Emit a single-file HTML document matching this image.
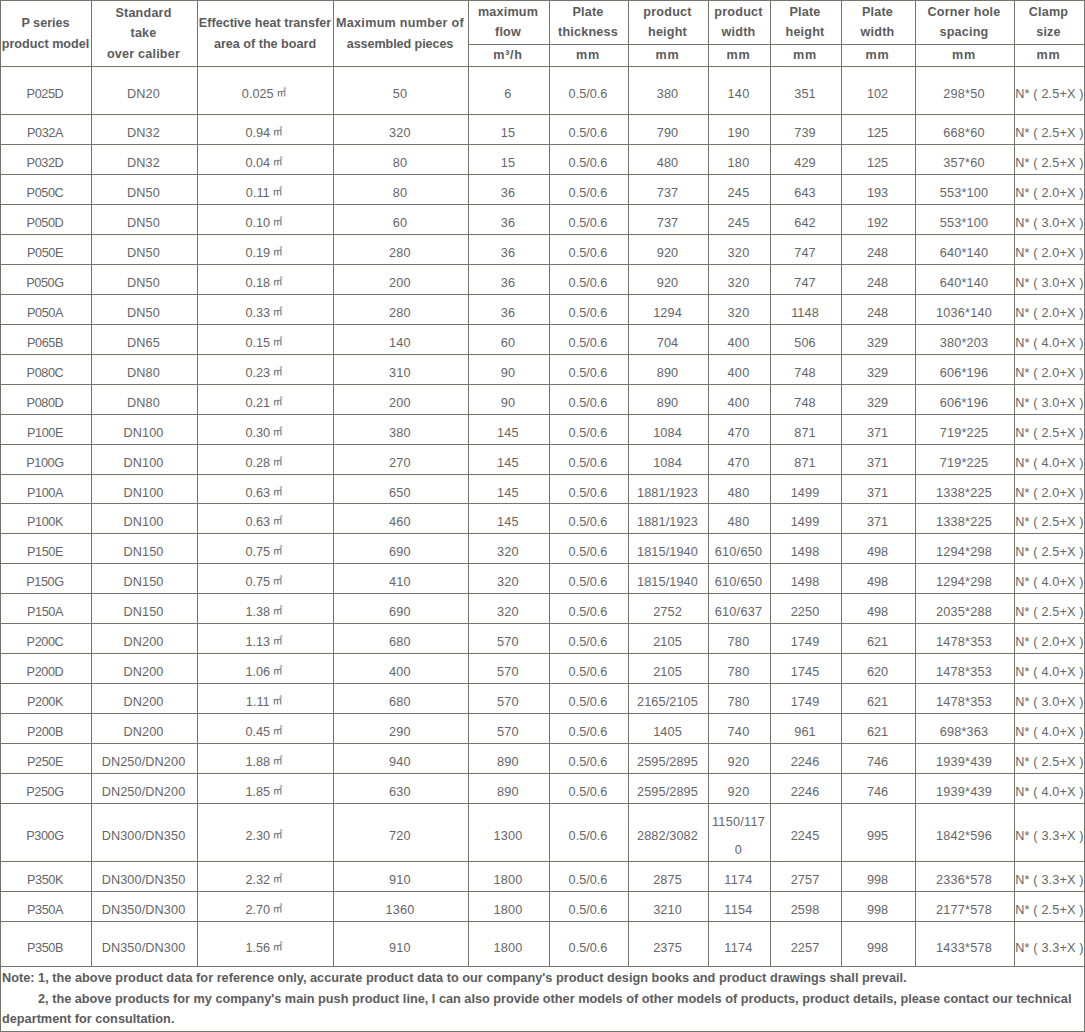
<!DOCTYPE html>
<html lang="en"><head><meta charset="utf-8"><title>P series plate heat exchanger parameters</title>
<style>
*{box-sizing:border-box;margin:0;padding:0}
html,body{width:1085px;height:1032px;background:#fff;overflow:hidden}
body{font-family:"Liberation Sans","Noto Sans CJK SC",sans-serif;color:#666;font-size:12.7px}
table{border-collapse:separate;border-spacing:0;table-layout:fixed;width:1085px;
 border-left:1px solid #74746b;border-top:1px solid #74746b}
td,th{border-right:1px solid #74746b;border-bottom:1px solid #74746b;text-align:center;
 vertical-align:middle;white-space:nowrap;overflow:visible;padding:0;font-weight:normal}
td div{position:relative;top:3px;line-height:20px}
td div.two{line-height:28px}
td{padding-right:2px}
td.c0{letter-spacing:-0.4px}
td.c1{letter-spacing:0.1px}
td.c3,td.c4,td.c10{letter-spacing:0.2px}
td.c6,td.c8{letter-spacing:0.1px}
td.c7{letter-spacing:0.25px}
td.c11{padding-right:0;letter-spacing:0.15px}
tr.last td div{top:4px}
th{font-weight:bold;color:#5c5c5c;font-size:12.6px;line-height:20.4px}
th div{position:relative}
th{padding-right:2px;letter-spacing:0.2px}
th.h0,th.h2{letter-spacing:0;padding-right:1px}
th.h3{letter-spacing:0.28px}
.u th{letter-spacing:0.7px}
th.a1 div{line-height:20.2px;top:-0.3px}
.u th{line-height:21px}
.sq{font-family:"IPAGothic","Noto Sans CJK SC",sans-serif;font-size:11.5px;line-height:1;vertical-align:1px;margin-left:-1.5px}
td.note div{top:1px;line-height:20.7px}
.ind{display:inline-block;width:36px}
.l1{letter-spacing:0.015px}
.l2{letter-spacing:-0.08px}
td.note{text-align:left;white-space:normal;font-weight:bold;color:#5c5c5c;vertical-align:top;
 padding:0 0 0 1px;line-height:20.7px;font-size:12.72px}
</style></head>
<body>
<table>
<colgroup>
<col style="width:91px">
<col style="width:106px">
<col style="width:136px">
<col style="width:135px">
<col style="width:81px">
<col style="width:79px">
<col style="width:80px">
<col style="width:62px">
<col style="width:71px">
<col style="width:74px">
<col style="width:99px">
<col style="width:70px">
</colgroup>
<thead>
<tr style="height:44px">
<th class="a2 h0" rowspan="2"><div>P series<br>product model</div></th>
<th class="a2 h1" rowspan="2"><div>Standard<br>take<br>over caliber</div></th>
<th class="a2 h2" rowspan="2"><div>Effective heat transfer<br>area of the board</div></th>
<th class="a2 h3" rowspan="2"><div>Maximum number of<br><span class="l2">assembled pieces</span></div></th>
<th class="a1 h4"><div>maximum<br>flow</div></th>
<th class="a1 h5"><div>Plate<br>thickness</div></th>
<th class="a1 h6"><div>product<br>height</div></th>
<th class="a1 h7"><div>product<br>width</div></th>
<th class="a1 h8"><div>Plate<br>height</div></th>
<th class="a1 h9"><div>Plate<br>width</div></th>
<th class="a1 h10"><div>Corner hole<br>spacing</div></th>
<th class="a1 h11"><div>Clamp<br>size</div></th>
</tr>
<tr class="u" style="height:22px">
<th><div>m³/h</div></th>
<th><div>mm</div></th>
<th><div>mm</div></th>
<th><div>mm</div></th>
<th><div>mm</div></th>
<th><div>mm</div></th>
<th><div>mm</div></th>
<th><div>mm</div></th>
</tr>
</thead>
<tbody>
<tr style="height:48px">
<td class="c0"><div>P025D</div></td>
<td class="c1"><div>DN20</div></td>
<td class="c2"><div>0.025 <span class="sq">㎡</span></div></td>
<td class="c3"><div>50</div></td>
<td class="c4"><div>6</div></td>
<td class="c5"><div>0.5/0.6</div></td>
<td class="c6"><div>380</div></td>
<td class="c7"><div>140</div></td>
<td class="c8"><div>351</div></td>
<td class="c9"><div>102</div></td>
<td class="c10"><div>298*50</div></td>
<td class="c11"><div>N* ( 2.5+X )</div></td>
</tr>
<tr style="height:30px">
<td class="c0"><div>P032A</div></td>
<td class="c1"><div>DN32</div></td>
<td class="c2"><div>0.94 <span class="sq">㎡</span></div></td>
<td class="c3"><div>320</div></td>
<td class="c4"><div>15</div></td>
<td class="c5"><div>0.5/0.6</div></td>
<td class="c6"><div>790</div></td>
<td class="c7"><div>190</div></td>
<td class="c8"><div>739</div></td>
<td class="c9"><div>125</div></td>
<td class="c10"><div>668*60</div></td>
<td class="c11"><div>N* ( 2.5+X )</div></td>
</tr>
<tr style="height:30px">
<td class="c0"><div>P032D</div></td>
<td class="c1"><div>DN32</div></td>
<td class="c2"><div>0.04 <span class="sq">㎡</span></div></td>
<td class="c3"><div>80</div></td>
<td class="c4"><div>15</div></td>
<td class="c5"><div>0.5/0.6</div></td>
<td class="c6"><div>480</div></td>
<td class="c7"><div>180</div></td>
<td class="c8"><div>429</div></td>
<td class="c9"><div>125</div></td>
<td class="c10"><div>357*60</div></td>
<td class="c11"><div>N* ( 2.5+X )</div></td>
</tr>
<tr style="height:30px">
<td class="c0"><div>P050C</div></td>
<td class="c1"><div>DN50</div></td>
<td class="c2"><div>0.11 <span class="sq">㎡</span></div></td>
<td class="c3"><div>80</div></td>
<td class="c4"><div>36</div></td>
<td class="c5"><div>0.5/0.6</div></td>
<td class="c6"><div>737</div></td>
<td class="c7"><div>245</div></td>
<td class="c8"><div>643</div></td>
<td class="c9"><div>193</div></td>
<td class="c10"><div>553*100</div></td>
<td class="c11"><div>N* ( 2.0+X )</div></td>
</tr>
<tr style="height:30px">
<td class="c0"><div>P050D</div></td>
<td class="c1"><div>DN50</div></td>
<td class="c2"><div>0.10 <span class="sq">㎡</span></div></td>
<td class="c3"><div>60</div></td>
<td class="c4"><div>36</div></td>
<td class="c5"><div>0.5/0.6</div></td>
<td class="c6"><div>737</div></td>
<td class="c7"><div>245</div></td>
<td class="c8"><div>642</div></td>
<td class="c9"><div>192</div></td>
<td class="c10"><div>553*100</div></td>
<td class="c11"><div>N* ( 3.0+X )</div></td>
</tr>
<tr style="height:30px">
<td class="c0"><div>P050E</div></td>
<td class="c1"><div>DN50</div></td>
<td class="c2"><div>0.19 <span class="sq">㎡</span></div></td>
<td class="c3"><div>280</div></td>
<td class="c4"><div>36</div></td>
<td class="c5"><div>0.5/0.6</div></td>
<td class="c6"><div>920</div></td>
<td class="c7"><div>320</div></td>
<td class="c8"><div>747</div></td>
<td class="c9"><div>248</div></td>
<td class="c10"><div>640*140</div></td>
<td class="c11"><div>N* ( 2.0+X )</div></td>
</tr>
<tr style="height:30px">
<td class="c0"><div>P050G</div></td>
<td class="c1"><div>DN50</div></td>
<td class="c2"><div>0.18 <span class="sq">㎡</span></div></td>
<td class="c3"><div>200</div></td>
<td class="c4"><div>36</div></td>
<td class="c5"><div>0.5/0.6</div></td>
<td class="c6"><div>920</div></td>
<td class="c7"><div>320</div></td>
<td class="c8"><div>747</div></td>
<td class="c9"><div>248</div></td>
<td class="c10"><div>640*140</div></td>
<td class="c11"><div>N* ( 3.0+X )</div></td>
</tr>
<tr style="height:30px">
<td class="c0"><div>P050A</div></td>
<td class="c1"><div>DN50</div></td>
<td class="c2"><div>0.33 <span class="sq">㎡</span></div></td>
<td class="c3"><div>280</div></td>
<td class="c4"><div>36</div></td>
<td class="c5"><div>0.5/0.6</div></td>
<td class="c6"><div>1294</div></td>
<td class="c7"><div>320</div></td>
<td class="c8"><div>1148</div></td>
<td class="c9"><div>248</div></td>
<td class="c10"><div>1036*140</div></td>
<td class="c11"><div>N* ( 2.0+X )</div></td>
</tr>
<tr style="height:30px">
<td class="c0"><div>P065B</div></td>
<td class="c1"><div>DN65</div></td>
<td class="c2"><div>0.15 <span class="sq">㎡</span></div></td>
<td class="c3"><div>140</div></td>
<td class="c4"><div>60</div></td>
<td class="c5"><div>0.5/0.6</div></td>
<td class="c6"><div>704</div></td>
<td class="c7"><div>400</div></td>
<td class="c8"><div>506</div></td>
<td class="c9"><div>329</div></td>
<td class="c10"><div>380*203</div></td>
<td class="c11"><div>N* ( 4.0+X )</div></td>
</tr>
<tr style="height:30px">
<td class="c0"><div>P080C</div></td>
<td class="c1"><div>DN80</div></td>
<td class="c2"><div>0.23 <span class="sq">㎡</span></div></td>
<td class="c3"><div>310</div></td>
<td class="c4"><div>90</div></td>
<td class="c5"><div>0.5/0.6</div></td>
<td class="c6"><div>890</div></td>
<td class="c7"><div>400</div></td>
<td class="c8"><div>748</div></td>
<td class="c9"><div>329</div></td>
<td class="c10"><div>606*196</div></td>
<td class="c11"><div>N* ( 2.0+X )</div></td>
</tr>
<tr style="height:30px">
<td class="c0"><div>P080D</div></td>
<td class="c1"><div>DN80</div></td>
<td class="c2"><div>0.21 <span class="sq">㎡</span></div></td>
<td class="c3"><div>200</div></td>
<td class="c4"><div>90</div></td>
<td class="c5"><div>0.5/0.6</div></td>
<td class="c6"><div>890</div></td>
<td class="c7"><div>400</div></td>
<td class="c8"><div>748</div></td>
<td class="c9"><div>329</div></td>
<td class="c10"><div>606*196</div></td>
<td class="c11"><div>N* ( 3.0+X )</div></td>
</tr>
<tr style="height:30px">
<td class="c0"><div>P100E</div></td>
<td class="c1"><div>DN100</div></td>
<td class="c2"><div>0.30 <span class="sq">㎡</span></div></td>
<td class="c3"><div>380</div></td>
<td class="c4"><div>145</div></td>
<td class="c5"><div>0.5/0.6</div></td>
<td class="c6"><div>1084</div></td>
<td class="c7"><div>470</div></td>
<td class="c8"><div>871</div></td>
<td class="c9"><div>371</div></td>
<td class="c10"><div>719*225</div></td>
<td class="c11"><div>N* ( 2.5+X )</div></td>
</tr>
<tr style="height:30px">
<td class="c0"><div>P100G</div></td>
<td class="c1"><div>DN100</div></td>
<td class="c2"><div>0.28 <span class="sq">㎡</span></div></td>
<td class="c3"><div>270</div></td>
<td class="c4"><div>145</div></td>
<td class="c5"><div>0.5/0.6</div></td>
<td class="c6"><div>1084</div></td>
<td class="c7"><div>470</div></td>
<td class="c8"><div>871</div></td>
<td class="c9"><div>371</div></td>
<td class="c10"><div>719*225</div></td>
<td class="c11"><div>N* ( 4.0+X )</div></td>
</tr>
<tr class="last" style="height:29px">
<td class="c0"><div>P100A</div></td>
<td class="c1"><div>DN100</div></td>
<td class="c2"><div>0.63 <span class="sq">㎡</span></div></td>
<td class="c3"><div>650</div></td>
<td class="c4"><div>145</div></td>
<td class="c5"><div>0.5/0.6</div></td>
<td class="c6"><div>1881/1923</div></td>
<td class="c7"><div>480</div></td>
<td class="c8"><div>1499</div></td>
<td class="c9"><div>371</div></td>
<td class="c10"><div>1338*225</div></td>
<td class="c11"><div>N* ( 2.0+X )</div></td>
</tr>
<tr style="height:30px">
<td class="c0"><div>P100K</div></td>
<td class="c1"><div>DN100</div></td>
<td class="c2"><div>0.63 <span class="sq">㎡</span></div></td>
<td class="c3"><div>460</div></td>
<td class="c4"><div>145</div></td>
<td class="c5"><div>0.5/0.6</div></td>
<td class="c6"><div>1881/1923</div></td>
<td class="c7"><div>480</div></td>
<td class="c8"><div>1499</div></td>
<td class="c9"><div>371</div></td>
<td class="c10"><div>1338*225</div></td>
<td class="c11"><div>N* ( 2.5+X )</div></td>
</tr>
<tr style="height:30px">
<td class="c0"><div>P150E</div></td>
<td class="c1"><div>DN150</div></td>
<td class="c2"><div>0.75 <span class="sq">㎡</span></div></td>
<td class="c3"><div>690</div></td>
<td class="c4"><div>320</div></td>
<td class="c5"><div>0.5/0.6</div></td>
<td class="c6"><div>1815/1940</div></td>
<td class="c7"><div>610/650</div></td>
<td class="c8"><div>1498</div></td>
<td class="c9"><div>498</div></td>
<td class="c10"><div>1294*298</div></td>
<td class="c11"><div>N* ( 2.5+X )</div></td>
</tr>
<tr style="height:30px">
<td class="c0"><div>P150G</div></td>
<td class="c1"><div>DN150</div></td>
<td class="c2"><div>0.75 <span class="sq">㎡</span></div></td>
<td class="c3"><div>410</div></td>
<td class="c4"><div>320</div></td>
<td class="c5"><div>0.5/0.6</div></td>
<td class="c6"><div>1815/1940</div></td>
<td class="c7"><div>610/650</div></td>
<td class="c8"><div>1498</div></td>
<td class="c9"><div>498</div></td>
<td class="c10"><div>1294*298</div></td>
<td class="c11"><div>N* ( 4.0+X )</div></td>
</tr>
<tr style="height:30px">
<td class="c0"><div>P150A</div></td>
<td class="c1"><div>DN150</div></td>
<td class="c2"><div>1.38 <span class="sq">㎡</span></div></td>
<td class="c3"><div>690</div></td>
<td class="c4"><div>320</div></td>
<td class="c5"><div>0.5/0.6</div></td>
<td class="c6"><div>2752</div></td>
<td class="c7"><div>610/637</div></td>
<td class="c8"><div>2250</div></td>
<td class="c9"><div>498</div></td>
<td class="c10"><div>2035*288</div></td>
<td class="c11"><div>N* ( 2.5+X )</div></td>
</tr>
<tr style="height:30px">
<td class="c0"><div>P200C</div></td>
<td class="c1"><div>DN200</div></td>
<td class="c2"><div>1.13 <span class="sq">㎡</span></div></td>
<td class="c3"><div>680</div></td>
<td class="c4"><div>570</div></td>
<td class="c5"><div>0.5/0.6</div></td>
<td class="c6"><div>2105</div></td>
<td class="c7"><div>780</div></td>
<td class="c8"><div>1749</div></td>
<td class="c9"><div>621</div></td>
<td class="c10"><div>1478*353</div></td>
<td class="c11"><div>N* ( 2.0+X )</div></td>
</tr>
<tr style="height:30px">
<td class="c0"><div>P200D</div></td>
<td class="c1"><div>DN200</div></td>
<td class="c2"><div>1.06 <span class="sq">㎡</span></div></td>
<td class="c3"><div>400</div></td>
<td class="c4"><div>570</div></td>
<td class="c5"><div>0.5/0.6</div></td>
<td class="c6"><div>2105</div></td>
<td class="c7"><div>780</div></td>
<td class="c8"><div>1745</div></td>
<td class="c9"><div>620</div></td>
<td class="c10"><div>1478*353</div></td>
<td class="c11"><div>N* ( 4.0+X )</div></td>
</tr>
<tr style="height:30px">
<td class="c0"><div>P200K</div></td>
<td class="c1"><div>DN200</div></td>
<td class="c2"><div>1.11 <span class="sq">㎡</span></div></td>
<td class="c3"><div>680</div></td>
<td class="c4"><div>570</div></td>
<td class="c5"><div>0.5/0.6</div></td>
<td class="c6"><div>2165/2105</div></td>
<td class="c7"><div>780</div></td>
<td class="c8"><div>1749</div></td>
<td class="c9"><div>621</div></td>
<td class="c10"><div>1478*353</div></td>
<td class="c11"><div>N* ( 3.0+X )</div></td>
</tr>
<tr style="height:30px">
<td class="c0"><div>P200B</div></td>
<td class="c1"><div>DN200</div></td>
<td class="c2"><div>0.45 <span class="sq">㎡</span></div></td>
<td class="c3"><div>290</div></td>
<td class="c4"><div>570</div></td>
<td class="c5"><div>0.5/0.6</div></td>
<td class="c6"><div>1405</div></td>
<td class="c7"><div>740</div></td>
<td class="c8"><div>961</div></td>
<td class="c9"><div>621</div></td>
<td class="c10"><div>698*363</div></td>
<td class="c11"><div>N* ( 4.0+X )</div></td>
</tr>
<tr style="height:30px">
<td class="c0"><div>P250E</div></td>
<td class="c1"><div>DN250/DN200</div></td>
<td class="c2"><div>1.88 <span class="sq">㎡</span></div></td>
<td class="c3"><div>940</div></td>
<td class="c4"><div>890</div></td>
<td class="c5"><div>0.5/0.6</div></td>
<td class="c6"><div>2595/2895</div></td>
<td class="c7"><div>920</div></td>
<td class="c8"><div>2246</div></td>
<td class="c9"><div>746</div></td>
<td class="c10"><div>1939*439</div></td>
<td class="c11"><div>N* ( 2.5+X )</div></td>
</tr>
<tr style="height:30px">
<td class="c0"><div>P250G</div></td>
<td class="c1"><div>DN250/DN200</div></td>
<td class="c2"><div>1.85 <span class="sq">㎡</span></div></td>
<td class="c3"><div>630</div></td>
<td class="c4"><div>890</div></td>
<td class="c5"><div>0.5/0.6</div></td>
<td class="c6"><div>2595/2895</div></td>
<td class="c7"><div>920</div></td>
<td class="c8"><div>2246</div></td>
<td class="c9"><div>746</div></td>
<td class="c10"><div>1939*439</div></td>
<td class="c11"><div>N* ( 4.0+X )</div></td>
</tr>
<tr style="height:58px">
<td class="c0"><div>P300G</div></td>
<td class="c1"><div>DN300/DN350</div></td>
<td class="c2"><div>2.30 <span class="sq">㎡</span></div></td>
<td class="c3"><div>720</div></td>
<td class="c4"><div>1300</div></td>
<td class="c5"><div>0.5/0.6</div></td>
<td class="c6"><div>2882/3082</div></td>
<td class="c7"><div class="two">1150/117<br>0</div></td>
<td class="c8"><div>2245</div></td>
<td class="c9"><div>995</div></td>
<td class="c10"><div>1842*596</div></td>
<td class="c11"><div>N* ( 3.3+X )</div></td>
</tr>
<tr style="height:30px">
<td class="c0"><div>P350K</div></td>
<td class="c1"><div>DN300/DN350</div></td>
<td class="c2"><div>2.32 <span class="sq">㎡</span></div></td>
<td class="c3"><div>910</div></td>
<td class="c4"><div>1800</div></td>
<td class="c5"><div>0.5/0.6</div></td>
<td class="c6"><div>2875</div></td>
<td class="c7"><div>1174</div></td>
<td class="c8"><div>2757</div></td>
<td class="c9"><div>998</div></td>
<td class="c10"><div>2336*578</div></td>
<td class="c11"><div>N* ( 3.3+X )</div></td>
</tr>
<tr style="height:30px">
<td class="c0"><div>P350A</div></td>
<td class="c1"><div>DN350/DN300</div></td>
<td class="c2"><div>2.70 <span class="sq">㎡</span></div></td>
<td class="c3"><div>1360</div></td>
<td class="c4"><div>1800</div></td>
<td class="c5"><div>0.5/0.6</div></td>
<td class="c6"><div>3210</div></td>
<td class="c7"><div>1154</div></td>
<td class="c8"><div>2598</div></td>
<td class="c9"><div>998</div></td>
<td class="c10"><div>2177*578</div></td>
<td class="c11"><div>N* ( 2.5+X )</div></td>
</tr>
<tr class="last" style="height:45px">
<td class="c0"><div>P350B</div></td>
<td class="c1"><div>DN350/DN300</div></td>
<td class="c2"><div>1.56 <span class="sq">㎡</span></div></td>
<td class="c3"><div>910</div></td>
<td class="c4"><div>1800</div></td>
<td class="c5"><div>0.5/0.6</div></td>
<td class="c6"><div>2375</div></td>
<td class="c7"><div>1174</div></td>
<td class="c8"><div>2257</div></td>
<td class="c9"><div>998</div></td>
<td class="c10"><div>1433*578</div></td>
<td class="c11"><div>N* ( 3.3+X )</div></td>
</tr>
<tr style="height:65px"><td class="note" colspan="12"><div class="n"><span class="l1">Note: 1, the above product data for reference only, accurate product data to our company's product design books and product drawings shall prevail.</span><br><span class="ind"></span>2, the above products for my company's main push product line, I can also provide other models of other models of products, product details, please contact our technical department for consultation.</div></td></tr>
</tbody>
</table>
</body></html>
